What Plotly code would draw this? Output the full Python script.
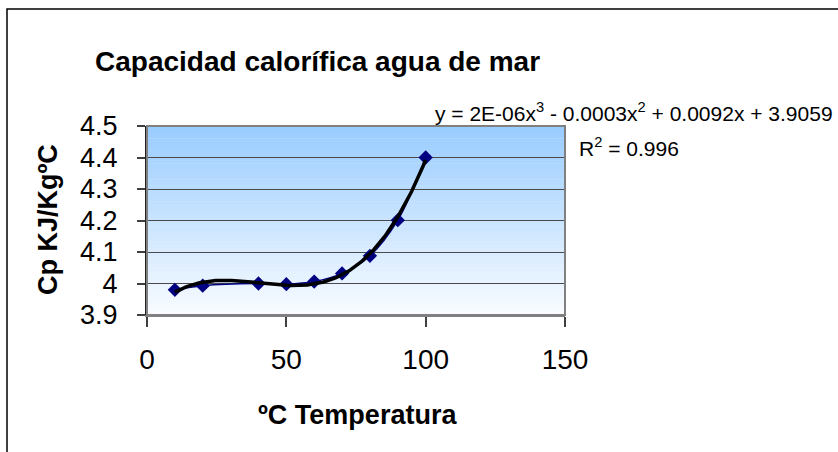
import numpy as np
import plotly.graph_objects as go

# ---- data ----
temp_c = [10, 20, 40, 50, 60, 70, 80, 90, 100]
cp_kj = [3.980, 3.993, 4.000, 3.998, 4.006, 4.032, 4.088, 4.201, 4.400]

title_text = "Capacidad calorífica agua de mar"
x_title = "ºC Temperatura"
y_title = "Cp KJ/KgºC"
eq_text = "y = 2E-06x<sup>3</sup> - 0.0003x<sup>2</sup> + 0.0092x + 3.9059"
r2_text = "R<sup>2</sup> = 0.996"
x_ticks = [0, 50, 100, 150]
y_ticks = [3.9, 4.0, 4.1, 4.2, 4.3, 4.4, 4.5]
y_tick_labels = ["3.9", "4", "4.1", "4.2", "4.3", "4.4", "4.5"]

FONT = "Liberation Sans, Arial, sans-serif"
W, H = 838, 452
L, R, T, B = 147, 565, 126, 315

# polynomial (3rd order) trendline computed from data
coef = np.polyfit(temp_c, cp_kj, 3)
xt = np.linspace(min(temp_c), max(temp_c), 200)
yt = np.polyval(coef, xt)

fig = go.Figure()
fig.add_trace(go.Scatter(
    x=temp_c, y=cp_kj, mode="lines+markers",
    line=dict(color="#000080", width=1.5, shape="spline"),
    marker=dict(symbol="diamond", size=11, color="#000080"),
    showlegend=False, hoverinfo="x+y"))
fig.add_trace(go.Scatter(
    x=xt, y=yt, mode="lines",
    line=dict(color="black", width=3.5),
    showlegend=False, hoverinfo="skip"))

# gradient background via horizontal strips
shapes = []
n = 60
top = np.array([153, 204, 255])
bot = np.array([250, 252, 255])
for i in range(n):
    f = (i + 0.5) / n
    c = bot + (top - bot) * f
    shapes.append(dict(type="rect", xref="x domain", yref="y domain",
                       x0=0, x1=1, y0=i / n, y1=(i + 1) / n + 0.002,
                       fillcolor="rgb(%d,%d,%d)" % tuple(c.astype(int)),
                       line=dict(width=0), layer="below"))
# plot area border
shapes.append(dict(type="rect", xref="x domain", yref="y domain",
                   x0=0, x1=1, y0=0, y1=1, line=dict(color="#808080", width=2),
                   layer="above"))
# outer chart border
shapes.append(dict(type="rect", xref="paper", yref="paper",
                   x0=(7 - L) / (R - L), x1=(900 - L) / (R - L),
                   y0=(B - 500) / (B - T), y1=(B - 9) / (B - T),
                   line=dict(color="black", width=1.5), fillcolor="rgba(0,0,0,0)"))

def px_x(p):
    return (p - L) / (R - L)

def px_y(p):
    return (B - p) / (B - T)

annotations = [
    dict(text="<b>" + title_text + "</b>", x=px_x(93), y=px_y(61), xref="paper", yref="paper",
         xanchor="left", yanchor="middle", showarrow=False,
         font=dict(family=FONT, size=28, color="black")),
    dict(text="<b>" + y_title + "</b>", x=px_x(48), y=px_y(220), xref="paper", yref="paper",
         xanchor="center", yanchor="middle", textangle=-90, showarrow=False,
         font=dict(family=FONT, size=27, color="black")),
    dict(text="<b>" + x_title + "</b>", x=px_x(357), y=px_y(415), xref="paper", yref="paper",
         xanchor="center", yanchor="middle", showarrow=False,
         font=dict(family=FONT, size=27, color="black")),
    dict(text=eq_text, x=px_x(835), y=px_y(112), xref="paper", yref="paper",
         xanchor="right", yanchor="middle", showarrow=False,
         font=dict(family=FONT, size=21, color="black")),
    dict(text=r2_text, x=px_x(577), y=px_y(147), xref="paper", yref="paper",
         xanchor="left", yanchor="middle", showarrow=False,
         font=dict(family=FONT, size=21, color="black")),
]

fig.update_layout(
    width=W, height=H,
    margin=dict(l=L, r=W - R, t=T, b=H - B, pad=0),
    paper_bgcolor="white", plot_bgcolor="white",
    shapes=shapes, annotations=annotations,
    font=dict(family=FONT, color="black"),
    xaxis=dict(range=[0, 150], tickvals=x_ticks, ticktext=[str(v) for v in x_ticks],
               showgrid=False, zeroline=False, showline=True, linecolor="#808080", linewidth=2,
               ticks="outside", ticklen=10, tickcolor="#404040", tickwidth=1.5,
               tickfont=dict(family=FONT, size=28), ticklabelstandoff=8),
    yaxis=dict(range=[3.9, 4.5], tickvals=y_ticks, ticktext=y_tick_labels,
               showgrid=True, gridcolor="#4a4a4a", gridwidth=1.2, zeroline=False,
               showline=True, linecolor="#202020", linewidth=2,
               ticks="outside", ticklen=8, tickcolor="#404040", tickwidth=1.5,
               tickfont=dict(family=FONT, size=27), ticklabelstandoff=14),
)

fig.write_html("out.html", config={"displayModeBar": False},
               post_script="document.body.style.margin='0';document.body.style.overflow='hidden';")
